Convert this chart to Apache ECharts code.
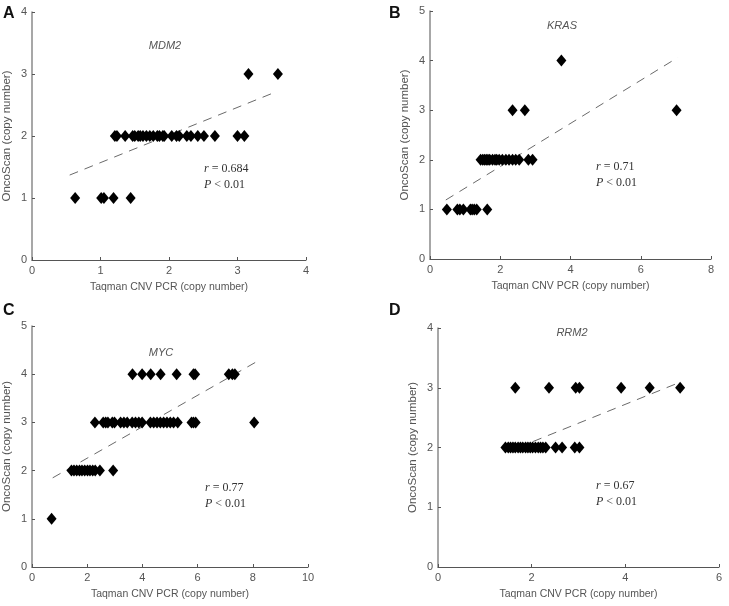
<!DOCTYPE html>
<html>
<head>
<meta charset="utf-8">
<script src="https://cdn.jsdelivr.net/npm/echarts@6/dist/echarts.min.js"></script>
<style>
html,body{margin:0;padding:0;background:#fff;}
#chart{width:729px;height:606px;}
</style>
</head>
<body>
<div id="chart"></div>
<script>
// ---- Data (x = Taqman CNV PCR, grouped by OncoScan copy number) ----
// Panel A: MDM2
const mdm2Level1 = [0.63, 1.01, 1.05, 1.19, 1.44];
const mdm2Level2 = [1.21, 1.24, 1.36, 1.47, 1.50, 1.55, 1.58, 1.62, 1.67, 1.72, 1.77, 1.83, 1.86, 1.91, 1.93, 2.04, 2.11, 2.15, 2.26, 2.32, 2.42, 2.51, 2.67, 3.00, 3.10];
const mdm2Level3 = [3.16, 3.59];
const mdm2Trend = [[0.55, 1.37], [3.58, 2.72]];

// Panel B: KRAS
const krasLevel1 = [0.48, 0.78, 0.85, 0.95, 1.15, 1.20, 1.26, 1.33, 1.63];
const krasLevel2 = [1.44, 1.50, 1.55, 1.60, 1.65, 1.70, 1.78, 1.85, 1.90, 1.97, 2.06, 2.16, 2.25, 2.35, 2.44, 2.54, 2.80, 2.92];
const krasLevel3 = [2.35, 2.70, 7.02];
const krasLevel4 = [3.74];
const krasTrend = [[0.45, 1.19], [7.05, 4.06]];

// Panel C: MYC
const mycLevel1 = [0.71];
const mycLevel2 = [1.43, 1.52, 1.62, 1.72, 1.81, 1.91, 2.01, 2.10, 2.20, 2.29, 2.46, 2.94];
const mycLevel3 = [2.28, 2.58, 2.67, 2.75, 2.91, 2.99, 3.21, 3.33, 3.45, 3.63, 3.75, 3.87, 3.99, 4.29, 4.41, 4.53, 4.65, 4.77, 4.89, 5.01, 5.13, 5.28, 5.78, 5.85, 5.93, 8.05];
const mycLevel4 = [3.64, 3.99, 4.30, 4.66, 5.24, 5.85, 5.91, 7.13, 7.26, 7.35];
const mycTrend = [[0.75, 1.85], [8.11, 4.25]];

// Panel D: RRM2
const rrm2Level2 = [1.44, 1.50, 1.55, 1.60, 1.65, 1.71, 1.76, 1.81, 1.87, 1.92, 1.97, 2.02, 2.08, 2.14, 2.19, 2.24, 2.30, 2.51, 2.65, 2.92, 3.02];
const rrm2Level3 = [1.65, 2.37, 2.94, 3.02, 3.91, 4.52, 5.17];
const rrm2Trend = [[2.03, 2.10], [5.13, 3.08]];

// Axis ranges / labels
const panelLetters = ['A', 'B', 'C', 'D'];
const geneNames = ['MDM2', 'KRAS', 'MYC', 'RRM2'];
const statR = ['0.684', '0.71', '0.77', '0.67'];
const statP = ['0.01', '0.01', '0.01', '0.01'];
const xMax = [4, 8, 10, 6];
const xStep = [1, 2, 2, 2];
const yMax = [4, 5, 5, 4];

const xTitle = 'Taqman CNV PCR (copy number)';
const yTitle = 'OncoScan (copy number)';

function pairs(xs, y) { return xs.map(v => [v, y]); }
const panelPoints = [
  [].concat(pairs(mdm2Level1, 1), pairs(mdm2Level2, 2), pairs(mdm2Level3, 3)),
  [].concat(pairs(krasLevel1, 1), pairs(krasLevel2, 2), pairs(krasLevel3, 3), pairs(krasLevel4, 4)),
  [].concat(pairs(mycLevel1, 1), pairs(mycLevel2, 2), pairs(mycLevel3, 3), pairs(mycLevel4, 4)),
  [].concat(pairs(rrm2Level2, 2), pairs(rrm2Level3, 3))
];
const panelTrends = [mdm2Trend, krasTrend, mycTrend, rrm2Trend];

// Layout (pixels)
const grids = [
  {left: 31, top: 12, width: 275, height: 248},
  {left: 430, top: 11, width: 281, height: 248},
  {left: 31, top: 326, width: 277, height: 241},
  {left: 438, top: 328, width: 281, height: 239}
];
const letterPos = [[3, 6], [389, 6], [3, 303], [389, 303]];
const genePos = [[165, 46], [562, 26], [161, 353], [572, 333]];
const statPos = [[204, 161], [596, 159], [205, 480], [596, 478]];

const fontSans = 'Liberation Sans, Arial, sans-serif';
const axisGray = '#8a8a8a';
const labelGray = '#555';

const option = {
  backgroundColor: '#fff',
  animation: false,
  grid: grids.map(g => Object.assign({containLabel: false}, g)),
  xAxis: grids.map((g, i) => ({
    gridIndex: i, type: 'value', min: 0, max: xMax[i], interval: xStep[i],
    name: xTitle, nameLocation: 'middle', nameGap: 22,
    nameTextStyle: {fontFamily: fontSans, fontSize: 10.5, color: labelGray},
    axisLine: {show: true, onZero: false, lineStyle: {color: '#555', width: 1}},
    axisTick: {show: true, inside: true, length: 3, lineStyle: {color: '#555'}},
    axisLabel: {fontFamily: fontSans, fontSize: 11, color: labelGray, margin: 5},
    splitLine: {show: false}
  })),
  yAxis: grids.map((g, i) => ({
    gridIndex: i, type: 'value', min: 0, max: yMax[i], interval: 1,
    name: yTitle, nameLocation: 'middle', nameGap: 19, nameRotate: 90,
    nameTextStyle: {fontFamily: fontSans, fontSize: 11.5, color: labelGray},
    axisLine: {show: true, onZero: false, lineStyle: {color: axisGray, width: 1.5}},
    axisTick: {show: true, inside: true, length: 3, lineStyle: {color: '#555'}},
    axisLabel: {fontFamily: fontSans, fontSize: 11, color: labelGray, margin: 5},
    splitLine: {show: false}
  })),
  series: [].concat(
    panelPoints.map((pts, i) => ({
      type: 'scatter', xAxisIndex: i, yAxisIndex: i, data: pts,
      symbol: 'diamond', symbolSize: [10, 12],
      itemStyle: {color: '#000', opacity: 1}, z: 3
    })),
    panelTrends.map((tr, i) => ({
      type: 'line', xAxisIndex: i, yAxisIndex: i, data: tr,
      symbol: 'none', silent: true,
      lineStyle: {color: '#6a6a6a', width: 1, type: [9, 7]}, z: 2
    }))
  ),
  graphic: [].concat(
    panelLetters.map((t, i) => ({
      type: 'text', left: letterPos[i][0], top: letterPos[i][1],
      style: {text: t, font: 'bold 16px ' + fontSans, fill: '#111'}
    })),
    geneNames.map((t, i) => ({
      type: 'text', x: genePos[i][0], y: genePos[i][1],
      style: {text: t, font: 'italic 11px ' + fontSans, fill: '#555', align: 'center', verticalAlign: 'middle'}
    })),
    statR.map((t, i) => ({
      type: 'text', left: statPos[i][0], top: statPos[i][1],
      style: {
        text: '{i|r} = ' + t + '\n{i|P} < ' + statP[i],
        font: '12px Liberation Serif, serif', fill: '#333', lineHeight: 16,
        rich: {i: {fontStyle: 'italic', fontFamily: 'Liberation Serif', fontSize: 12, fill: '#333', color: '#333'}}
      }
    }))
  )
};

const chart = echarts.init(document.getElementById('chart'), null, {renderer: 'canvas'});
chart.setOption(option);
</script>
</body>
</html>
